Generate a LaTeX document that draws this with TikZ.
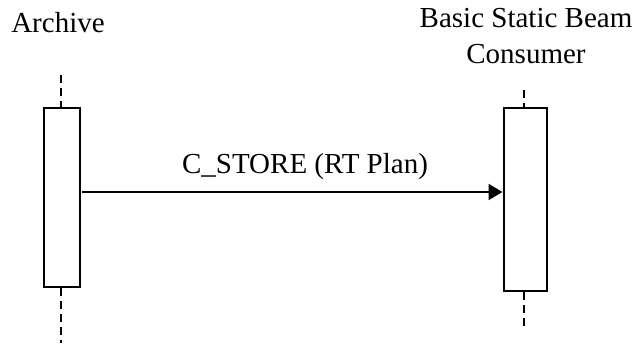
\documentclass[tikz,border=0pt]{standalone}
\usepackage{fontspec}
\setmainfont{Liberation Serif}
\usetikzlibrary{arrows.meta, positioning}

\tikzset{
  actor/.style={align=center, font=\fontsize{29}{36}\selectfont, inner sep=0pt},
  lifebox/.style={draw, line width=2pt, fill=white, inner sep=0pt},
  lifeline/.style={line width=1.6pt, dash pattern=on 8pt off 5pt},
  msg/.style={line width=2pt, -{Triangle[length=14pt, width=16pt]}}
}

\begin{document}
\begin{tikzpicture}[x=1pt, y=-1pt]
        \useasboundingbox (0,0) rectangle (636,343);

        % Actor names
        \node[actor, anchor=base] (archive) at (58,32) {Archive};
        \node[actor, anchor=base] (consumer) at (526,63) {Basic Static Beam\\Consumer};

        % Lifeline ends
        \coordinate (archTop) at (61,75);
        \coordinate (archBot) at (61,343);
        \coordinate (consTop) at (524,90);
        \coordinate (consBot) at (524,330);

        % Activation boxes
        \node[lifebox, minimum width=36pt, minimum height=179pt] (archBox) at (62,197.5) {};
        \node[lifebox, minimum width=43pt, minimum height=183pt] (consBox) at (525,199.5) {};

        % Dashed lifelines above and below the boxes
        \draw[lifeline] (archTop) -- (archTop |- archBox.north);
        \draw[lifeline] (archBox.south -| archBot) -- (archBot);
        \draw[lifeline] (consTop) -- (consTop |- consBox.north);
        \draw[lifeline] (consBox.south -| consBot) -- (consBot);

        % Message
        \coordinate (sendPt) at (archBox.east |- 0,192);
        \draw[msg] ([xshift=1pt]sendPt) -- (sendPt -| consBox.west);
        \node[actor, anchor=base] (store) at (305,173) {C\_STORE (RT Plan)};
    \end{tikzpicture}
\end{document}
